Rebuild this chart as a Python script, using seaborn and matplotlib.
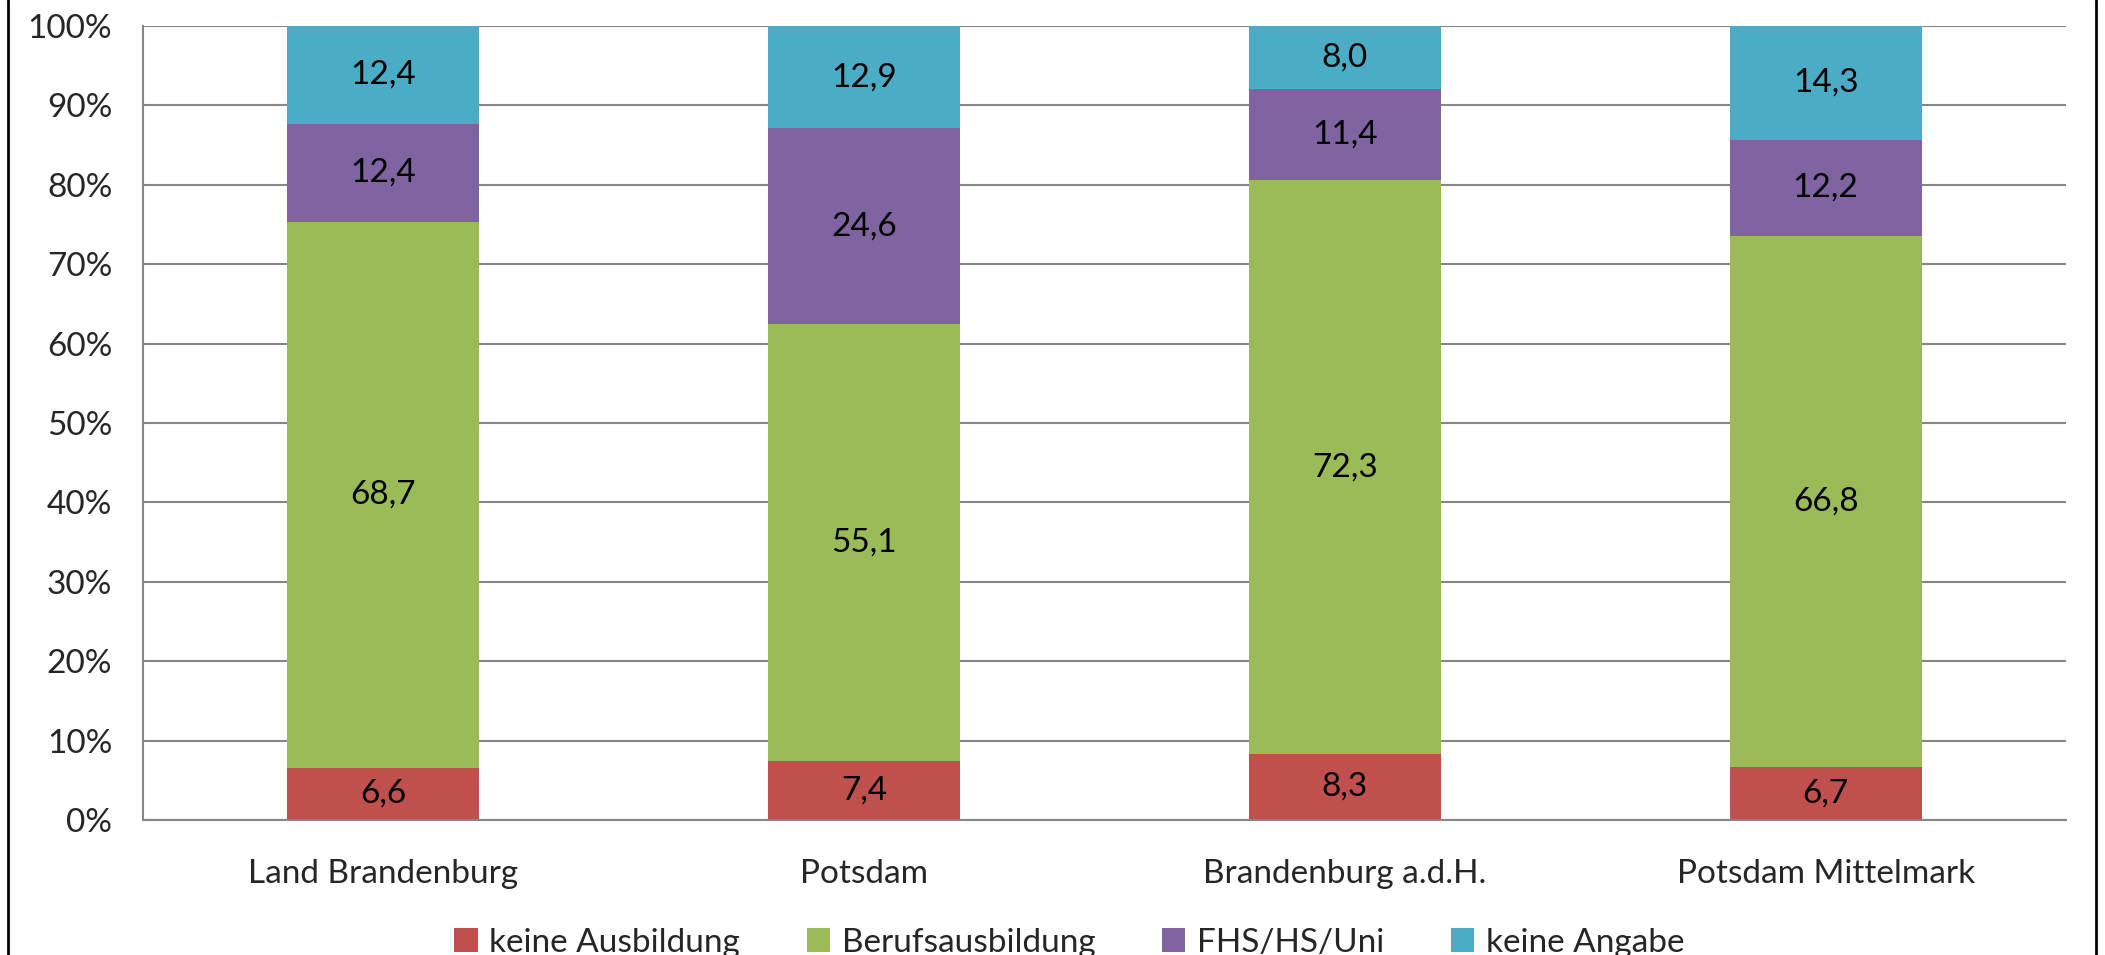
import numpy as np
import pandas as pd
import matplotlib
matplotlib.use("Agg")
import matplotlib.pyplot as plt
from matplotlib.patches import Patch
from matplotlib.lines import Line2D
from matplotlib.ticker import PercentFormatter
import seaborn as sns

# Data
regions = ['Land Brandenburg', 'Potsdam', 'Brandenburg a.d.H.', 'Potsdam Mittelmark']
series = ['keine Ausbildung', 'Berufsausbildung', 'FHS/HS/Uni', 'keine Angabe']
keine_ausbildung = [6.6, 7.4, 8.3, 6.7]
berufsausbildung = [68.7, 55.1, 72.3, 66.8]
fhs_hs_uni = [12.4, 24.6, 11.4, 12.2]
keine_angabe = [12.4, 12.9, 8.0, 14.3]
colors = ['#C0504D', '#9BBB59', '#8064A2', '#4BACC6']

sns.set_style('white')
plt.rcParams['font.family'] = ['Lato', 'DejaVu Sans']

values = np.array([keine_ausbildung, berufsausbildung, fhs_hs_uni, keine_angabe])
cum = values.cumsum(axis=0)

fig = plt.figure(figsize=(21.05, 9.55), dpi=100)
ax = fig.add_axes([0.0679, 0.1414, 0.9136, 0.8314])

# stacked bars: draw cumulative totals from the top layer down
for i in range(len(series) - 1, -1, -1):
    df = pd.DataFrame({'region': regions, 'value': np.minimum(cum[i], 100)})
    sns.barplot(data=df, x='region', y='value', color=colors[i], width=0.4,
                saturation=1, linewidth=0, ax=ax, zorder=2)

# segment labels
for i in range(len(series)):
    for j in range(len(regions)):
        mid = cum[i, j] - values[i, j] / 2
        ax.text(j, mid, f'{values[i, j]:.1f}'.replace('.', ','), ha='center',
                va='center', fontsize=24, color='black', zorder=3)

ax.set_ylim(0, 100)
ax.set_xlim(-0.5, len(regions) - 0.5)
ax.set_yticks(np.arange(0, 101, 10))
ax.yaxis.set_major_formatter(PercentFormatter(decimals=0))
ax.grid(axis='y', color='#868686', linewidth=1.5, zorder=0)
ax.set_axisbelow(True)
ax.set_xlabel('')
ax.set_ylabel('')

for side in ['top', 'right']:
    ax.spines[side].set_visible(False)
for side in ['left', 'bottom']:
    ax.spines[side].set_color('#868686')
    ax.spines[side].set_linewidth(1.5)

ax.tick_params(axis='y', length=8, width=1.5, color='#868686', pad=14, labelsize=24)
ax.tick_params(axis='x', which='major', length=0, pad=28, labelsize=24)
ax.set_xticks(np.arange(-0.5, len(regions), 1), minor=True)
ax.tick_params(axis='x', which='minor', length=9, width=1.5, color='#868686')

handles = [Patch(facecolor=c, edgecolor='none') for c in colors]
fig.legend(handles, series, loc='center', bbox_to_anchor=(0.508, 0.013), ncol=4,
           frameon=False, fontsize=24, handlelength=0.7, handleheight=0.7,
           handletextpad=0.35, columnspacing=2.0)

# outer frame lines
fig.add_artist(Line2D([0.004, 0.004], [0, 1], color='black', linewidth=2, transform=fig.transFigure))
fig.add_artist(Line2D([0.9955, 0.9955], [0, 1], color='black', linewidth=2, transform=fig.transFigure))

fig.savefig('out.png', dpi=100)
